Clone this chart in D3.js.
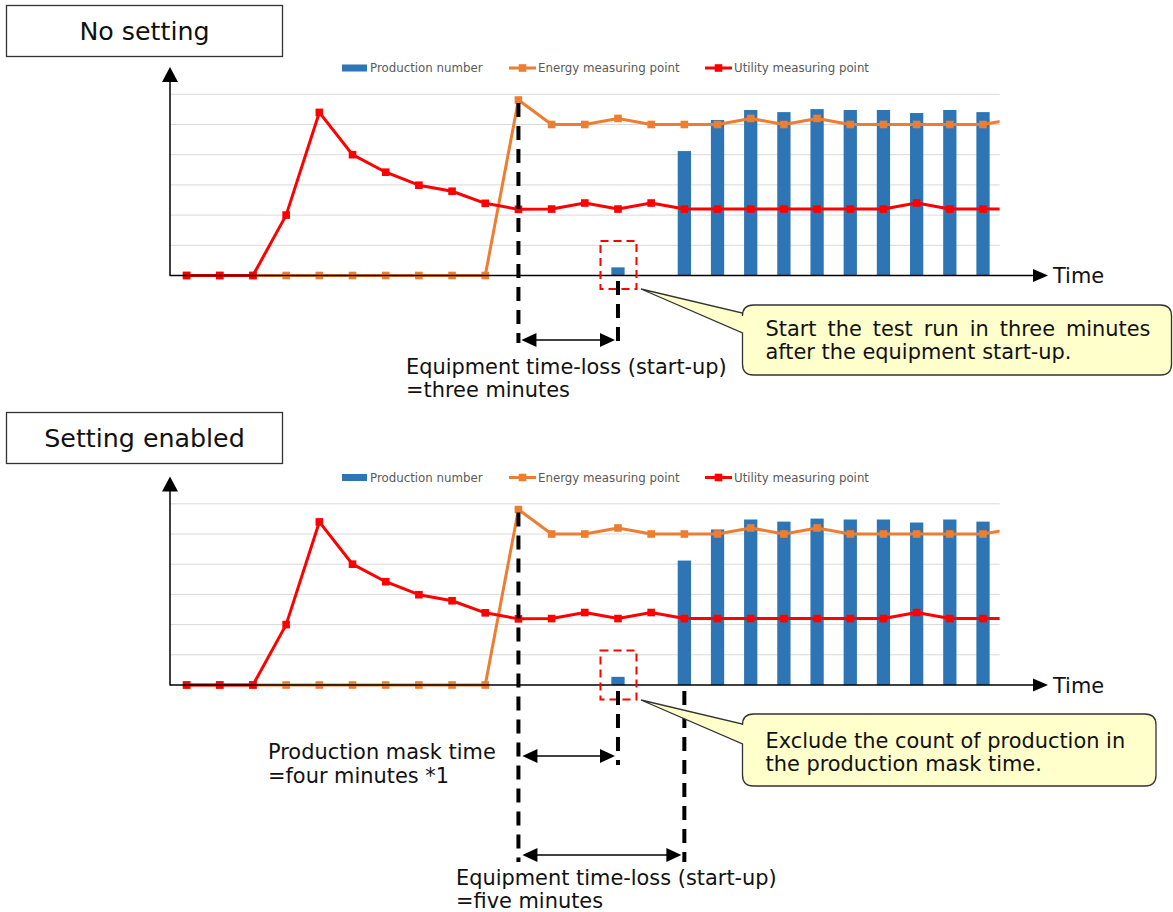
<!DOCTYPE html>
<html>
<head>
<meta charset="utf-8">
<script src="https://cdn.jsdelivr.net/npm/d3@7"></script>
<style>
  body { margin: 0; background: #fff; }
  svg { display: block; font-family: "DejaVu Sans", sans-serif; }
</style>
</head>
<body>
<script>
// Minute-by-minute readings after the equipment is switched on.
// The 26th minute lies just past the right edge of the plot and is clipped.
const minutes = [1, 2, 3, 4, 5, 6, 7, 8, 9, 10, 11, 12, 13, 14, 15, 16, 17, 18, 19, 20, 21, 22, 23, 24, 25, 26];
const production = [0, 0, 0, 0, 0, 0, 0, 0, 0, 0, 0, 0, 0, 0.27, 0, 4.12, 5.15, 5.48, 5.41, 5.51, 5.48, 5.48, 5.38, 5.48, 5.41, 0];
const energy = [0, 0, 0, 0, 0, 0, 0, 0, 0, 0, 5.81, 5.0, 5.0, 5.2, 5.0, 5.0, 5.0, 5.2, 5.0, 5.2, 5.0, 5.0, 5.0, 5.0, 5.0, 5.2];
const utility = [0, 0, 0, 2.0, 5.4, 4.0, 3.42, 2.99, 2.79, 2.39, 2.19, 2.2, 2.4, 2.2, 2.4, 2.2, 2.2, 2.2, 2.2, 2.2, 2.2, 2.2, 2.4, 2.2, 2.2, 2.2];
const seriesNames = ["Production number", "Energy measuring point", "Utility measuring point"];
const panelTitles = ["No setting", "Setting enabled"];
const visibleMinutes = 25;
const gridValues = [1, 2, 3, 4, 5, 6];

const COLORS = { bar: "#2E75B6", energy: "#ED7D31", utility: "#FF0000", grid: "#D9D9D9", legend: "#595959" };
const NOTE_SIZE = 20.9;

const svg = d3.select("body").append("svg").attr("width", 1173).attr("height", 912);

const plotLeft = 170, plotRight = 999.6;
const step = (plotRight - plotLeft) / visibleMinutes;
const x = d3.scaleBand()
  .domain(minutes)
  .range([plotLeft, plotLeft + step * minutes.length])
  .paddingInner(0.6)
  .paddingOuter(0.3);
const cx = m => x(m) + x.bandwidth() / 2;
const y = d3.scaleLinear().domain([0, 6]).range([275.5, 94.3]);

const defs = svg.append("defs");
defs.append("clipPath").attr("id", "plot-clip")
  .append("rect").attr("x", plotLeft).attr("y", 60).attr("width", plotRight - plotLeft).attr("height", 230);

// ---- one chart panel (drawn in the coordinates of the upper panel, shifted by dy)
function drawPanel(dy) {
  const g = svg.append("g").attr("transform", `translate(0,${dy})`);

  // gridlines
  g.append("g").selectAll("line").data(gridValues).join("line")
    .attr("x1", plotLeft).attr("x2", plotRight)
    .attr("y1", d => y(d)).attr("y2", d => y(d))
    .attr("stroke", COLORS.grid).attr("stroke-width", 1);

  const plot = g.append("g").attr("clip-path", "url(#plot-clip)");

  // production bars
  plot.append("g").selectAll("rect")
    .data(minutes.map((m, i) => ({ m, v: production[i] })).filter(d => d.v > 0))
    .join("rect")
    .attr("x", d => x(d.m)).attr("width", x.bandwidth())
    .attr("y", d => y(d.v)).attr("height", d => y(0) - y(d.v))
    .attr("fill", COLORS.bar);

  const line = d3.line().x(d => cx(d.m)).y(d => y(d.v));
  const series = [
    { values: energy, color: COLORS.energy },
    { values: utility, color: COLORS.utility }
  ];
  series.forEach(s => {
    const pts = minutes.map((m, i) => ({ m, v: s.values[i] }));
    plot.append("path").datum(pts).attr("d", line)
      .attr("fill", "none").attr("stroke", s.color).attr("stroke-width", 3)
      .attr("stroke-linejoin", "round");
    plot.append("g").selectAll("rect").data(pts).join("rect")
      .attr("x", d => cx(d.m) - 3.8).attr("y", d => y(d.v) - 3.8)
      .attr("width", 7.6).attr("height", 7.6).attr("fill", s.color);
  });

  // axes with arrow heads
  const axisColor = "#000";
  g.append("line").attr("x1", plotLeft).attr("x2", plotLeft).attr("y1", y(0) + 0.5).attr("y2", 80)
    .attr("stroke", axisColor).attr("stroke-width", 1.5);
  g.append("path").attr("d", `M${plotLeft - 8},82 L${plotLeft},67 L${plotLeft + 8},82 Z`).attr("fill", axisColor);
  g.append("line").attr("x1", plotLeft).attr("x2", 1035).attr("y1", y(0)).attr("y2", y(0))
    .attr("stroke", axisColor).attr("stroke-width", 1.5);
  g.append("path").attr("d", `M1033,${y(0) - 6.5} L1048,${y(0)} L1033,${y(0) + 6.5} Z`).attr("fill", axisColor);
  g.append("text").attr("x", 1053).attr("y", y(0) + 7.5).attr("font-size", NOTE_SIZE).attr("fill", "#111").text("Time");

  // legend
  const lg = g.append("g").attr("font-size", 11.8).attr("fill", COLORS.legend);
  const ly = 68;
  lg.append("rect").attr("x", 342).attr("y", ly - 3.5).attr("width", 25).attr("height", 7).attr("fill", COLORS.bar);
  lg.append("text").attr("x", 370).attr("y", ly + 4.2).text(seriesNames[0]);
  [[509, COLORS.energy, seriesNames[1]], [705, COLORS.utility, seriesNames[2]]].forEach(([lx, c, name]) => {
    lg.append("line").attr("x1", lx).attr("x2", lx + 27).attr("y1", ly).attr("y2", ly)
      .attr("stroke", c).attr("stroke-width", 3);
    lg.append("rect").attr("x", lx + 13.5 - 3.8).attr("y", ly - 3.8).attr("width", 7.6).attr("height", 7.6).attr("fill", c);
    lg.append("text").attr("x", lx + 29).attr("y", ly + 4.2).text(name);
  });
  return g;
}

// ---- annotation helpers
function titleBox(label, top) {
  svg.append("rect").attr("x", 6.5).attr("y", top + 0.5).attr("width", 276).attr("height", 51)
    .attr("fill", "#fff").attr("stroke", "#333").attr("stroke-width", 1.3);
  svg.append("text").attr("x", 144.5).attr("y", top + 35).attr("text-anchor", "middle")
    .attr("font-size", 25.3).attr("fill", "#111").text(label);
}

function dashedVertical(m, y1, y2) {
  svg.append("line").attr("x1", cx(m)).attr("x2", cx(m)).attr("y1", y1).attr("y2", y2)
    .attr("stroke", "#000").attr("stroke-width", 4).attr("stroke-dasharray", "14,9");
}

function doubleArrow(x1, x2, yy) {
  const hl = 15, hw = 7;
  svg.append("line").attr("x1", x1 + hl - 1).attr("x2", x2 - hl + 1).attr("y1", yy).attr("y2", yy)
    .attr("stroke", "#000").attr("stroke-width", 1.5);
  svg.append("path").attr("d", `M${x1},${yy} L${x1 + hl},${yy - hw} L${x1 + hl},${yy + hw} Z`).attr("fill", "#000");
  svg.append("path").attr("d", `M${x2},${yy} L${x2 - hl},${yy - hw} L${x2 - hl},${yy + hw} Z`).attr("fill", "#000");
}

function maskBox(m, y1, y2) {
  svg.append("rect").attr("x", cx(m) - 17.5).attr("y", y1).attr("width", 36).attr("height", y2 - y1)
    .attr("fill", "none").attr("stroke", COLORS.utility).attr("stroke-width", 2).attr("stroke-dasharray", "8,5");
}

function callout(b, tip, lines, baselines, justifyWidth) {
  const { x0, y0, x1, y1 } = b, r = 11;
  const d = [
    `M${x0 + r},${y0}`, `H${x1 - r}`, `Q${x1},${y0} ${x1},${y0 + r}`,
    `V${y1 - r}`, `Q${x1},${y1} ${x1 - r},${y1}`, `H${x0 + r}`, `Q${x0},${y1} ${x0},${y1 - r}`,
    `V${tip.wy1}`, `L${tip.x},${tip.y}`, `L${x0},${tip.wy0}`,
    `V${y0 + r}`, `Q${x0},${y0} ${x0 + r},${y0}`, "Z"
  ].join(" ");
  svg.append("path").attr("d", d).attr("fill", "#FFFFCC").attr("stroke", "#333").attr("stroke-width", 1.3);
  lines.forEach((t, i) => {
    const tx = svg.append("text").attr("x", x0 + 23).attr("y", baselines[i])
      .attr("font-size", NOTE_SIZE).attr("fill", "#111").text(t);
    if (i === 0 && justifyWidth) {
      const natural = tx.node().getComputedTextLength();
      const gaps = t.split(" ").length - 1;
      tx.attr("word-spacing", (justifyWidth - natural) / gaps);
    }
  });
}

function label(lines, lx, baselines) {
  lines.forEach((t, i) => svg.append("text").attr("x", lx).attr("y", baselines[i])
    .attr("font-size", NOTE_SIZE).attr("fill", "#111").text(t));
}

// ---- upper panel: no mask setting
const offset = 409.5;
titleBox(panelTitles[0], 5);
drawPanel(0);
maskBox(14, 241, 289);
dashedVertical(11, y(energy[10]) + 3, 343);
dashedVertical(14, 281, 346);
doubleArrow(cx(11) + 3, cx(14) - 3, 340);
label(["Equipment time-loss (start-up)", "=three minutes"], 406, [374, 397]);
callout({ x0: 742.5, y0: 305, x1: 1171.5, y1: 375 }, { x: 641, y: 289, wy0: 313, wy1: 333 },
  ["Start the test run in three minutes", "after the equipment start-up."], [336, 359], 385);

// ---- lower panel: production mask enabled
titleBox(panelTitles[1], 412);
drawPanel(offset);
maskBox(14, 241 + offset, 289 + offset + 1);
dashedVertical(11, y(energy[10]) + 3 + offset, 862);
dashedVertical(14, 691, 765);
dashedVertical(16, 691, 862);
doubleArrow(cx(11) + 4, cx(14) - 3, 756);
doubleArrow(cx(11) + 4, cx(16) - 3, 855);
label(["Production mask time", "=four minutes *1"], 268, [759, 783]);
label(["Equipment time-loss (start-up)", "=five minutes"], 456, [885, 908]);
callout({ x0: 742.5, y0: 714, x1: 1156, y1: 786 }, { x: 641, y: 700, wy0: 724, wy1: 744 },
  ["Exclude the count of production in", "the production mask time."], [748, 771], null);
</script>
</body>
</html>
